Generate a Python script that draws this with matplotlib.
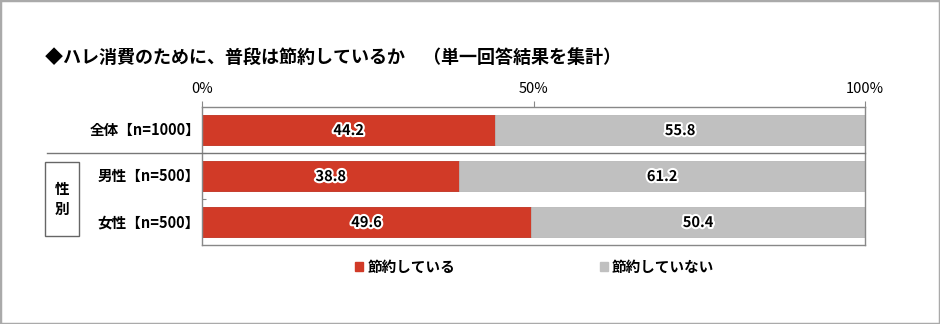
import numpy as np
import matplotlib
matplotlib.use("Agg")
import matplotlib.pyplot as plt
import matplotlib.patheffects as pe
from matplotlib.patches import Rectangle
from matplotlib.lines import Line2D
from matplotlib.transforms import blended_transform_factory

plt.rcParams['font.family'] = ['Noto Sans CJK JP', 'DejaVu Sans']

# data
categories = ['全体【n=1000】', '男性【n=500】', '女性【n=500】']
saving = [44.2, 38.8, 49.6]
not_saving = [55.8, 61.2, 50.4]
series_names = ['節約している', '節約していない']
colors = ['#d13a27', '#c0c0c0']
title = '◆ハレ消費のために、普段は節約しているか　（単一回答結果を集計）'
group_label = '性\n別'

W, H = 940, 324
fig = plt.figure(figsize=(W / 100, H / 100), dpi=100)
fig.patch.set_facecolor('white')

ax = fig.add_axes([202 / W, 79 / H, 663 / W, 138 / H])
y = np.arange(len(categories))

ax.barh(y, saving, height=0.65, color=colors[0], edgecolor='#c0301f', linewidth=0.6)
ax.barh(y, not_saving, left=saving, height=0.65, color=colors[1], edgecolor='#b8b8b8', linewidth=0.6)

glow = [pe.withStroke(linewidth=3, foreground='white')]
for i in range(len(categories)):
    ax.text(saving[i] / 2, y[i], f'{saving[i]:.1f}', ha='center', va='center',
            fontsize=10.5, fontweight='bold', color='black', path_effects=glow)
    ax.text(saving[i] + not_saving[i] / 2, y[i], f'{not_saving[i]:.1f}', ha='center', va='center',
            fontsize=10.5, fontweight='bold', color='black', path_effects=glow)

ax.set_xlim(0, 100)
ax.set_ylim(len(categories) - 0.5, -0.5)

ax.xaxis.tick_top()
ax.set_xticks([0, 50, 100])
ax.set_xticklabels(['0%', '50%', '100%'], fontsize=10.5)
ax.tick_params(axis='x', direction='out', length=4, color='#888888', pad=4)

ax.set_yticks(y[:-1] + 0.5)
ax.set_yticklabels([])
ax.tick_params(axis='y', direction='in', length=3, color='#888888')

for s in ax.spines.values():
    s.set_color('#888888')
    s.set_linewidth(1)

# category labels
for i, c in enumerate(categories):
    ax.text(-0.3, y[i], c, ha='right', va='center', fontsize=10.5, fontweight='bold')

# separator between total and gender rows
tr = blended_transform_factory(fig.transFigure, ax.transData)
fig.add_artist(Line2D([47 / W, 865 / W], [0.5, 0.5], transform=tr, color='#777777', linewidth=1))

# group box
fig.add_artist(Rectangle((45 / W, (H - 236) / H), 34 / W, 74 / H, transform=fig.transFigure,
                         fill=False, edgecolor='#666666', linewidth=1))
fig.text(62 / W, (H - 199) / H, group_label, ha='center', va='center', fontsize=10.5,
         fontweight='bold', linespacing=1.3)

# title
fig.text(45 / W, (H - 57) / H, title, ha='left', va='center', fontsize=13, fontweight='bold')

# legend
handles = [Rectangle((0, 0), 1, 1, color=c) for c in colors]
fig.legend(handles, series_names, loc='center left', bbox_to_anchor=(342 / W, (H - 267) / H),
           ncol=2, frameon=False, handlelength=0.55, handleheight=0.55, handletextpad=0.3,
           columnspacing=9.9, prop={'size': 10.5, 'weight': 'bold'})

# outer frame
fig.add_artist(Rectangle((0, 0), 1, 1, transform=fig.transFigure, fill=False,
                         edgecolor='#aaaaaa', linewidth=2.5))

fig.savefig('out.png', dpi=100)
